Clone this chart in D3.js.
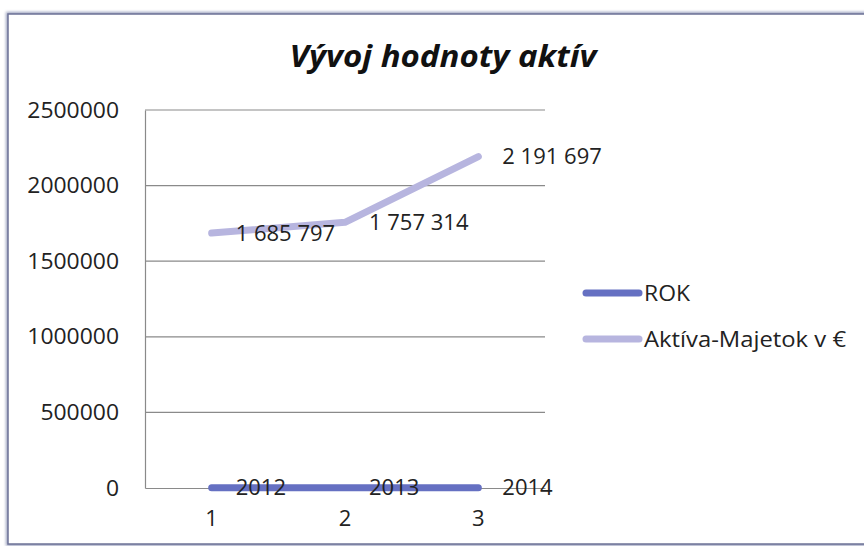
<!DOCTYPE html>
<html><head><meta charset="utf-8">
<script src="https://cdn.jsdelivr.net/npm/d3@7"></script>
<style>
html,body{margin:0;padding:0;background:#fff;}
svg{display:block;}
</style></head>
<body>
<svg id="chart" width="864" height="546"></svg>
<script>
const title = "Vývoj hodnoty aktív";
const categories = ["1", "2", "3"];
const seriesNames = ["ROK", "Aktíva-Majetok v €"];
const rokValues = [2012, 2013, 2014];
const aktivaValues = [1685797, 1757314, 2191697];
const rokLabels = ["2012", "2013", "2014"];
const aktivaLabels = ["1 685 797", "1 757 314", "2 191 697"];
const yTicks = [0, 500000, 1000000, 1500000, 2000000, 2500000];

const colors = ["#6570c2", "#b7b5df"];
const font = "'Open Sans', Lato, sans-serif";
const fs = 22;

const svg = d3.select("#chart");

// frame
const defs = svg.append("defs");
const f = defs.append("filter").attr("id","blur").attr("x","-5%").attr("y","-5%").attr("width","110%").attr("height","110%");
f.append("feGaussianBlur").attr("stdDeviation", 1.5);
svg.append("rect").attr("x",8).attr("y",14).attr("width",870).attr("height",530)
  .attr("fill","none").attr("stroke","#9aa0bd").attr("stroke-width",4).attr("filter","url(#blur)");
svg.append("rect").attr("x",8).attr("y",14).attr("width",870).attr("height",530)
  .attr("fill","#fff").attr("stroke","#6c7296").attr("stroke-width",1.5);

const plot = {left:145, right:545, top:110, bottom:488};

const x = d3.scaleBand().domain(categories).range([plot.left, plot.right]);
const y = d3.scaleLinear().domain([0, 2500000]).range([plot.bottom, plot.top]);
const cx = c => x(c) + x.bandwidth()/2;

// gridlines
svg.append("g").selectAll("line").data(yTicks.filter(d=>d>0)).join("line")
  .attr("x1", plot.left).attr("x2", plot.right)
  .attr("y1", d=>y(d)).attr("y2", d=>y(d))
  .attr("stroke","#8a8a8a").attr("stroke-width",1.2);

// y axis
const yAxis = svg.append("g").attr("transform",`translate(${plot.left},0)`)
  .call(d3.axisLeft(y).tickValues(yTicks).tickSize(0).tickPadding(26).tickFormat(d3.format("d")));
yAxis.select(".domain").attr("stroke","#8a8a8a").attr("stroke-width",1.2);
yAxis.selectAll("text").attr("font-family",font).attr("font-size",fs).attr("fill","#222")
  .attr("textLength", d => String(d).length * 13.1).attr("lengthAdjust","spacingAndGlyphs");

// x axis
const xAxis = svg.append("g").attr("transform",`translate(0,${plot.bottom})`)
  .call(d3.axisBottom(x).tickSize(0).tickPadding(22));
xAxis.select(".domain").attr("stroke","#8a8a8a").attr("stroke-width",1.2);
xAxis.selectAll("text").attr("font-family",font).attr("font-size",fs).attr("fill","#222");

// lines
const series = [
  {name: seriesNames[0], values: rokValues, labels: rokLabels, color: colors[0]},
  {name: seriesNames[1], values: aktivaValues, labels: aktivaLabels, color: colors[1]}
];
const line = d3.line().x((d,i)=>cx(categories[i])).y(d=>y(d));
series.forEach(s=>{
  svg.append("path").datum(s.values).attr("d", line)
    .attr("fill","none").attr("stroke", s.color).attr("stroke-width",7)
    .attr("stroke-linecap","round").attr("stroke-linejoin","round");
});
series.forEach(s=>{
  svg.append("g").selectAll("text").data(s.values).join("text")
    .attr("x",(d,i)=>cx(categories[i]) + 24)
    .attr("y",d=>y(d)).attr("dy","0.35em")
    .attr("font-family",font).attr("font-size",fs).attr("fill","#222")
    .text((d,i)=>s.labels[i]);
});

// title
svg.append("text").attr("x",443).attr("y",67).attr("text-anchor","middle")
  .attr("font-family",font).attr("font-size",30).attr("font-weight","bold").attr("font-style","italic")
  .attr("textLength",307).attr("lengthAdjust","spacingAndGlyphs")
  .attr("fill","#111").text(title);

// legend
const legY = [293, 339];
const legW = [46, 202];
series.forEach((s,i)=>{
  svg.append("line").attr("x1",586).attr("x2",639).attr("y1",legY[i]).attr("y2",legY[i])
    .attr("stroke",s.color).attr("stroke-width",7).attr("stroke-linecap","round");
  svg.append("text").attr("x",644).attr("y",legY[i]).attr("dy","0.35em")
    .attr("font-family",font).attr("font-size",fs).attr("fill","#222")
    .attr("textLength",legW[i]).attr("lengthAdjust","spacingAndGlyphs").text(s.name);
});
</script>
</body></html>
